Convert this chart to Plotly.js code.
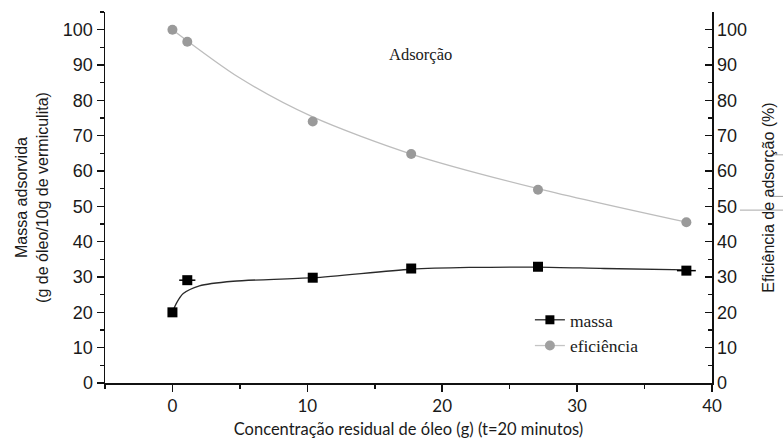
<!DOCTYPE html>
<html>
<head>
<meta charset="utf-8">
<script src="https://cdn.plot.ly/plotly-3.0.1.min.js"></script>
<style>
  html, body { margin: 0; padding: 0; background: #fff; }
  #chart { width: 783px; height: 443px; }
</style>
</head>
<body>
<div id="chart"></div>
<script>
// Residual oil concentration (g) after 20 minutes
const concentracao = [0, 1.1, 10.4, 17.7, 27.1, 38.1];
// Adsorbed mass (g of oil / 10 g of vermiculite)
const massa = [20, 29.1, 29.8, 32.4, 32.9, 31.8];
// Horizontal uncertainty on concentration
const erroConc = [0, 0.6, 0, 0, 0, 0.7];
// Adsorption efficiency (%)
const eficiencia = [100, 96.6, 74.0, 64.8, 54.7, 45.5];

// Smoothed trend lines
const ajusteMassaX = [0, 0.3, 0.8, 2, 4.5, 10.4, 17.7, 22, 27.1, 32, 38.1];
const ajusteMassaY = [20, 22.6, 25.3, 27.5, 28.8, 29.8, 32.2, 32.7, 32.8, 32.4, 32.0];
const ajusteEfX = [0, 5, 10.4, 17.7, 27.1, 38.1];
const ajusteEfY = [100, 86.3, 75.3, 64.8, 55.0, 45.5];

const axisTicks = [0, 10, 20, 30, 40, 50, 60, 70, 80, 90, 100];

const sans = '"Liberation Sans", Arial, sans-serif';
const serif = '"Liberation Serif", "Times New Roman", serif';
const humanist = 'Lato, "Liberation Sans", sans-serif';

const traces = [
  {
    x: ajusteMassaX, y: ajusteMassaY, mode: 'lines',
    line: { color: '#2a2a2a', width: 1.3, shape: 'spline', smoothing: 0.8 },
    showlegend: false, hoverinfo: 'skip'
  },
  {
    x: ajusteEfX, y: ajusteEfY, mode: 'lines', yaxis: 'y2',
    line: { color: '#bdbdbd', width: 1.3, shape: 'spline', smoothing: 0.8 },
    showlegend: false, hoverinfo: 'skip'
  },
  {
    x: concentracao, y: massa, mode: 'markers', name: 'massa',
    marker: { symbol: 'square', size: 10, color: '#000' },
    error_x: { type: 'data', array: erroConc, visible: true, color: '#000', thickness: 1.5, width: 0 },
    showlegend: false
  },
  {
    x: concentracao, y: eficiencia, mode: 'markers', name: 'eficiência', yaxis: 'y2',
    marker: { symbol: 'circle', size: 10, color: '#9a9a9a' },
    showlegend: false
  },
  // legend entries (line + marker)
  {
    x: [null], y: [null], mode: 'lines+markers', name: 'massa',
    line: { color: '#2a2a2a', width: 1.3 },
    marker: { symbol: 'square', size: 9, color: '#000' }
  },
  {
    x: [null], y: [null], mode: 'lines+markers', name: 'eficiência',
    line: { color: '#c4c4c4', width: 1.3 },
    marker: { symbol: 'circle', size: 10, color: '#a0a0a0' }
  }
];

const layout = {
  width: 783, height: 443,
  margin: { l: 105, r: 71, t: 12, b: 60 },
  paper_bgcolor: '#fff', plot_bgcolor: '#fff',
  font: { family: sans, color: '#1a1a1a', size: 16 },
  showlegend: true,
  legend: {
    x: 0.70, y: 0.135, xanchor: 'left', yanchor: 'middle',
    font: { family: serif, size: 17.5, color: '#1a1a1a' },
    bgcolor: 'rgba(0,0,0,0)', tracegroupgap: 0
  },
  xaxis: {
    range: [-5, 40], tickvals: [0, 10, 20, 30, 40],
    ticks: 'outside', ticklen: 7, tickwidth: 1.5, tickcolor: '#111',
    minor: { dtick: 5, ticks: 'outside', ticklen: 4, tickwidth: 1.5, tickcolor: '#111' },
    showline: true, linecolor: '#111', linewidth: 1.5,
    showgrid: false, zeroline: false,
    tickfont: { family: humanist, size: 17 },
    title: { text: 'Concentração residual de óleo (g) (t=20 minutos)', standoff: 8,
             font: { family: humanist, size: 16.5 } }
  },
  xaxis2: {
    overlaying: 'x', side: 'top', range: [-5, 40], matches: 'x',
    tickvals: [0, 5, 10, 15, 20, 25, 30, 35, 40], ticks: 'inside', ticklen: 7,
    tickwidth: 1.5, tickcolor: '#111', showticklabels: false,
    showline: true, linecolor: '#111', linewidth: 1.5,
    showgrid: false, zeroline: false
  },
  yaxis: {
    range: [0, 105], tickvals: axisTicks,
    ticks: 'outside', ticklen: 7, tickwidth: 1.5, tickcolor: '#111',
    minor: { dtick: 5, ticks: 'outside', ticklen: 4, tickwidth: 1.5, tickcolor: '#111' },
    showline: true, linecolor: '#111', linewidth: 1.5,
    showgrid: false, zeroline: false,
    tickfont: { size: 18 },
    title: { text: 'Massa adsorvida<br>(g de óleo/10g de vermiculita)', standoff: 10,
             font: { size: 16 } }
  },
  yaxis2: {
    overlaying: 'y', side: 'right', range: [0, 105], tickvals: axisTicks,
    ticks: 'inside', ticklen: 7, tickwidth: 1.5, tickcolor: '#111',
    minor: { dtick: 5, ticks: 'inside', ticklen: 4, tickwidth: 1.5, tickcolor: '#111' },
    showline: true, linecolor: '#111', linewidth: 1.5,
    showgrid: false, zeroline: false,
    tickfont: { size: 18 },
    title: { text: 'Eficiência de adsorção (%)', standoff: 16, font: { size: 16 } }
  },
  annotations: [
    {
      x: 18.4, y: 93, xref: 'x', yref: 'y', text: 'Adsorção', showarrow: false,
      font: { family: serif, size: 16.5, color: '#1a1a1a' }
    }
  ],
  shapes: [
    { type: 'line', xref: 'paper', yref: 'paper', x0: 1.096, x1: 1.12, y0: 0.615, y1: 0.615,
      line: { color: '#b0b0b0', width: 1 } },
    { type: 'line', xref: 'paper', yref: 'paper', x0: 1.096, x1: 1.12, y0: 0.503, y1: 0.503,
      line: { color: '#a0a0a0', width: 1 } },
    { type: 'line', xref: 'paper', yref: 'paper', x0: 1.046, x1: 1.12, y0: 0.466, y1: 0.466,
      line: { color: '#a8a8a8', width: 1 } }
  ]
};

Plotly.newPlot('chart', traces, layout, { displayModeBar: false, staticPlot: true });
</script>
</body>
</html>
